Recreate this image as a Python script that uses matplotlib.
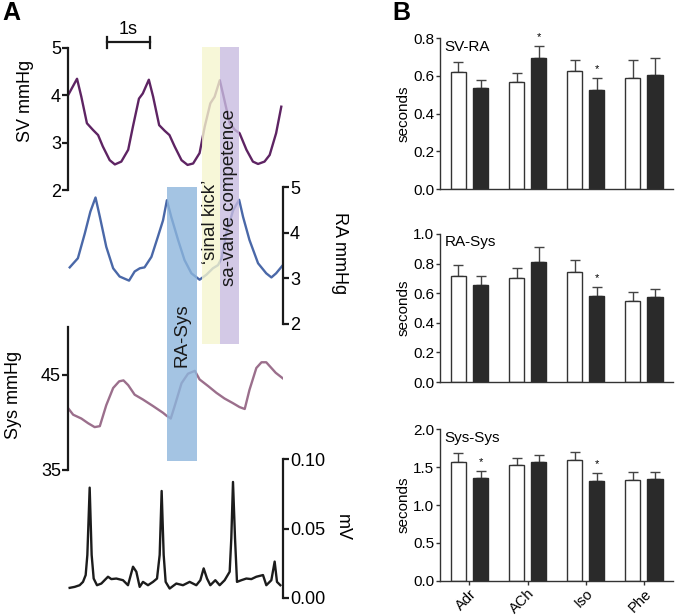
import numpy as np
import matplotlib
matplotlib.use('Agg')
import matplotlib.pyplot as plt

W, H = 675, 616
plt.rcParams['font.family'] = ['Liberation Sans', 'DejaVu Sans']

# ---- panel A traces (time in s) ----
sv_t = [0.00, 0.21, 0.31, 0.44, 0.58, 0.70, 0.81, 0.97, 1.09, 1.24, 1.40, 1.51, 1.65, 1.74, 1.88, 1.98,
        2.12, 2.25, 2.36, 2.48, 2.64, 2.78, 2.91, 3.06, 3.18, 3.31, 3.41, 3.53, 3.62, 3.76, 3.88, 3.99,
        4.15, 4.30, 4.42, 4.57, 4.69, 4.84, 4.96]
sv_v = [4.00, 4.35, 3.97, 3.41, 3.27, 3.16, 2.92, 2.63, 2.54, 2.60, 2.85, 3.34, 3.93, 4.04, 4.33, 3.97,
        3.37, 3.25, 3.16, 2.92, 2.63, 2.53, 2.56, 2.78, 3.34, 3.83, 3.97, 4.32, 3.97, 3.41, 3.27, 3.20,
        2.85, 2.60, 2.55, 2.60, 2.74, 3.20, 3.76]

ra_t = [0.04, 0.23, 0.39, 0.52, 0.64, 0.74, 0.89, 1.05, 1.20, 1.42, 1.55, 1.67, 1.78, 1.94, 2.09, 2.21,
        2.30, 2.40, 2.56, 2.71, 2.87, 3.06, 3.22, 3.37, 3.49, 3.57, 3.68, 3.84, 3.98, 4.07, 4.22, 4.42,
        4.61, 4.73, 4.84, 4.98]
ra_v = [3.24, 3.44, 3.98, 4.46, 4.77, 4.35, 3.69, 3.22, 3.04, 2.95, 3.15, 3.22, 3.24, 3.47, 3.91, 4.27,
        4.71, 4.35, 3.84, 3.40, 3.11, 2.97, 3.08, 3.22, 3.29, 3.44, 3.98, 4.49, 4.72, 4.35, 3.84, 3.33,
        3.11, 3.02, 3.11, 3.27]

sys_t = [0.00, 0.12, 0.31, 0.47, 0.62, 0.74, 0.89, 1.05, 1.19, 1.29, 1.40, 1.55, 1.74, 1.98, 2.21, 2.29,
         2.39, 2.48, 2.64, 2.79, 2.95, 3.06, 3.26, 3.45, 3.64, 3.84, 3.99, 4.11, 4.22, 4.38, 4.50, 4.61,
         4.73, 4.83, 5.00]
sys_v = [41.5, 40.8, 40.4, 39.9, 39.5, 39.6, 41.8, 43.6, 44.3, 44.4, 43.9, 42.9, 42.4, 41.7, 41.0, 40.7,
         40.4, 41.7, 44.1, 45.1, 45.4, 44.5, 43.8, 43.1, 42.5, 42.0, 41.6, 41.4, 43.4, 45.7, 46.3, 46.3,
         45.7, 45.2, 44.6]

ecg_t = [0.039, 0.155, 0.271, 0.349, 0.411, 0.450, 0.504, 0.550, 0.597, 0.674, 0.775, 0.930, 1.008, 1.124,
         1.279, 1.395, 1.512, 1.589, 1.667, 1.744, 1.860, 1.977, 2.070, 2.132, 2.178, 2.225, 2.271, 2.364,
         2.519, 2.674, 2.829, 2.984, 3.078, 3.155, 3.233, 3.310, 3.426, 3.527, 3.643, 3.760, 3.798, 3.837,
         3.884, 3.930, 4.031, 4.147, 4.264, 4.380, 4.535, 4.612, 4.729, 4.806, 4.860, 4.938]
ecg_v = [0.0073, 0.0080, 0.0092, 0.0116, 0.0165, 0.0310, 0.0794, 0.0310, 0.0140, 0.0092, 0.0104, 0.0153,
         0.0136, 0.0140, 0.0128, 0.0092, 0.0225, 0.0189, 0.0080, 0.0116, 0.0092, 0.0116, 0.0140, 0.0310,
         0.0770, 0.0310, 0.0116, 0.0068, 0.0104, 0.0092, 0.0116, 0.0092, 0.0128, 0.0213, 0.0140, 0.0092,
         0.0128, 0.0092, 0.0128, 0.0189, 0.0431, 0.0835, 0.0431, 0.0116, 0.0128, 0.0140, 0.0136, 0.0153,
         0.0165, 0.0092, 0.0128, 0.0262, 0.0116, 0.0092]

# shaded intervals (s)
band_start = [2.30, 3.12, 3.53]
band_end = [3.00, 3.53, 3.98]
band_labels = ['RA-Sys', '\u2018sinal kick\u2019', 'sa-valve competence']

# ---- panel B ----
groups = ['Adr', 'ACh', 'Iso', 'Phe']
sv_ra_ctrl = [0.618, 0.567, 0.625, 0.588]
sv_ra_ctrl_err = [0.053, 0.048, 0.060, 0.094]
sv_ra_drug = [0.535, 0.694, 0.526, 0.602]
sv_ra_drug_err = [0.044, 0.062, 0.060, 0.094]
sv_ra_sig = [False, True, True, False]

ra_sys_ctrl = [0.714, 0.700, 0.741, 0.547]
ra_sys_ctrl_err = [0.079, 0.068, 0.086, 0.059]
ra_sys_drug = [0.658, 0.809, 0.579, 0.577]
ra_sys_drug_err = [0.056, 0.101, 0.063, 0.049]
ra_sys_sig = [False, False, True, False]

sys_sys_ctrl = [1.565, 1.521, 1.596, 1.332]
sys_sys_ctrl_err = [0.118, 0.092, 0.105, 0.101]
sys_sys_drug = [1.349, 1.569, 1.314, 1.336]
sys_sys_drug_err = [0.097, 0.084, 0.101, 0.101]
sys_sys_sig = [True, False, True, False]

fig = plt.figure(figsize=(W / 100, H / 100), dpi=100)


def px_axes(x0, y0, x1, y1):
    return fig.add_axes([x0 / W, 1 - y1 / H, (x1 - x0) / W, (y1 - y0) / H])


def trace_axes(y0, y1, ylim, side, ticks):
    ax = px_axes(68, y0, 283, y1)
    ax.set_xlim(0, 5)
    ax.set_ylim(*ylim)
    ax.patch.set_visible(False)
    for s in ['top', 'bottom', 'left', 'right']:
        ax.spines[s].set_visible(s == side)
    ax.spines[side].set_linewidth(1.6)
    ax.spines[side].set_color('#1a1a1a')
    ax.xaxis.set_visible(False)
    if side == 'right':
        ax.yaxis.tick_right()
    ax.set_yticks(ticks)
    ax.tick_params(axis='y', labelsize=13, width=1.6, length=4, pad=1, color='#1a1a1a')
    return ax


ax_sv = trace_axes(48, 190, (2, 5), 'left', [2, 3, 4, 5])
ax_sv.plot(sv_t, sv_v, color='#5e2463', lw=1.7)
ax_ra = trace_axes(187, 324, (2, 5), 'right', [2, 3, 4, 5])
ax_ra.plot(ra_t, ra_v, color='#4a68a8', lw=1.7)
ax_sys = trace_axes(327, 470, (35, 50), 'left', [35, 45])
ax_sys.plot(sys_t, sys_v, color='#9b6f8c', lw=1.7)
ax_ecg = trace_axes(459, 598, (0, 0.1), 'right', [0.0, 0.05, 0.10])
ax_ecg.set_yticklabels(['0.00', '0.05', '0.10'])
ax_ecg.plot(ecg_t, ecg_v, color='#1c1c1c', lw=1.7)

fig.text(25 / W, 1 - 101 / H, 'SV mmHg', rotation=90, ha='center', va='center', fontsize=13)
fig.text(340 / W, 1 - 253 / H, 'RA mmHg', rotation=270, ha='center', va='center', fontsize=13)
fig.text(14 / W, 1 - 395 / H, 'Sys mmHg', rotation=90, ha='center', va='center', fontsize=13)
fig.text(342 / W, 1 - 527 / H, 'mV', rotation=270, ha='center', va='center', fontsize=13)

# overlay in (time, pixel-row) coordinates for bands and scale bar
ov = px_axes(68, 0, 283, H)
ov.set_xlim(0, 5)
ov.set_ylim(H, 0)
ov.axis('off')
ov.set_zorder(10)
band_rows = [(187, 461), (47, 344), (47, 344)]
band_colors = ['#8db6dd', '#f5f5cf', '#c8bce0']
text_rows = [335, 222, 197]
for s, e, (r0, r1), c, lab, ty in zip(band_start, band_end, band_rows, band_colors, band_labels, text_rows):
    ov.fill_between([s, e], r0, r1, color=c, alpha=0.8, lw=0)
    ov.text((s + e) / 2, ty, lab, rotation=90, ha='center', va='center', fontsize=13.5, color='#1a1a1a')

bar_t0 = (107 - 68) / 43
ov.plot([bar_t0, bar_t0 + 1], [42, 42], color='#1a1a1a', lw=1.6)
ov.plot([bar_t0, bar_t0], [37, 48], color='#1a1a1a', lw=1.6)
ov.plot([bar_t0 + 1, bar_t0 + 1], [37, 48], color='#1a1a1a', lw=1.6)
ov.text(bar_t0 + 0.5, 30, '1s', ha='center', va='center', fontsize=13)

fig.text(2 / W, 1 - 1 / H, 'A', fontsize=18, fontweight='bold', va='top', ha='left')
fig.text(392 / W, 1 - 1 / H, 'B', fontsize=18, fontweight='bold', va='top', ha='left')


def bar_panel(y0, y1, title, ctrl, ctrl_err, drug, drug_err, sig, ymax, ticks, last):
    ax = px_axes(440, y0, 673, y1)
    x = np.arange(len(groups))
    off, wd = 0.19, 0.26
    ax.bar(x - off, ctrl, wd, color='white', edgecolor='#333333', lw=1, zorder=2)
    ax.bar(x + off, drug, wd, color='#2a2a2a', edgecolor='#2a2a2a', lw=1, zorder=2)
    z = np.zeros(len(groups))
    ax.errorbar(x - off, ctrl, yerr=[z, ctrl_err], fmt='none', ecolor='#444444',
                elinewidth=1, capsize=3.5, capthick=1, zorder=1)
    ax.errorbar(x + off, drug, yerr=[z, drug_err], fmt='none', ecolor='#444444',
                elinewidth=1, capsize=3.5, capthick=1, zorder=1)
    for i, flag in enumerate(sig):
        if flag:
            ax.annotate('*', (x[i] + off, drug[i] + drug_err[i]), xytext=(0, 3),
                        textcoords='offset points', ha='center', va='bottom', fontsize=8)
    ax.set_xlim(-0.507, 3.5)
    ax.set_ylim(0, ymax)
    ax.set_yticks(ticks)
    ax.set_yticklabels(['%.1f' % t for t in ticks])
    for s in ['top', 'right']:
        ax.spines[s].set_visible(False)
    for s in ['left', 'bottom']:
        ax.spines[s].set_color('#333333')
        ax.spines[s].set_linewidth(1)
    ax.tick_params(axis='y', labelsize=11, length=3, width=1, pad=1, color='#333333')
    ax.set_ylabel('seconds', fontsize=11, labelpad=2)
    ax.text(0.02, 0.99, title, transform=ax.transAxes, ha='left', va='top', fontsize=11)
    ax.set_xticks(x)
    if last:
        ax.set_xticklabels(groups, rotation=45, ha='right', va='top', rotation_mode='anchor')
        ax.tick_params(axis='x', labelsize=10.5, length=3, width=1, pad=1, color='#333333')
    else:
        ax.set_xticklabels([])
        ax.tick_params(axis='x', length=0)
    return ax


bar_panel(38, 189, 'SV-RA', sv_ra_ctrl, sv_ra_ctrl_err, sv_ra_drug, sv_ra_drug_err, sv_ra_sig,
          0.8, [0.0, 0.2, 0.4, 0.6, 0.8], False)
bar_panel(234, 382, 'RA-Sys', ra_sys_ctrl, ra_sys_ctrl_err, ra_sys_drug, ra_sys_drug_err, ra_sys_sig,
          1.0, [0.0, 0.2, 0.4, 0.6, 0.8, 1.0], False)
bar_panel(429, 581, 'Sys-Sys', sys_sys_ctrl, sys_sys_ctrl_err, sys_sys_drug, sys_sys_drug_err, sys_sys_sig,
          2.0, [0.0, 0.5, 1.0, 1.5, 2.0], True)

fig.savefig('out.png', dpi=100)
